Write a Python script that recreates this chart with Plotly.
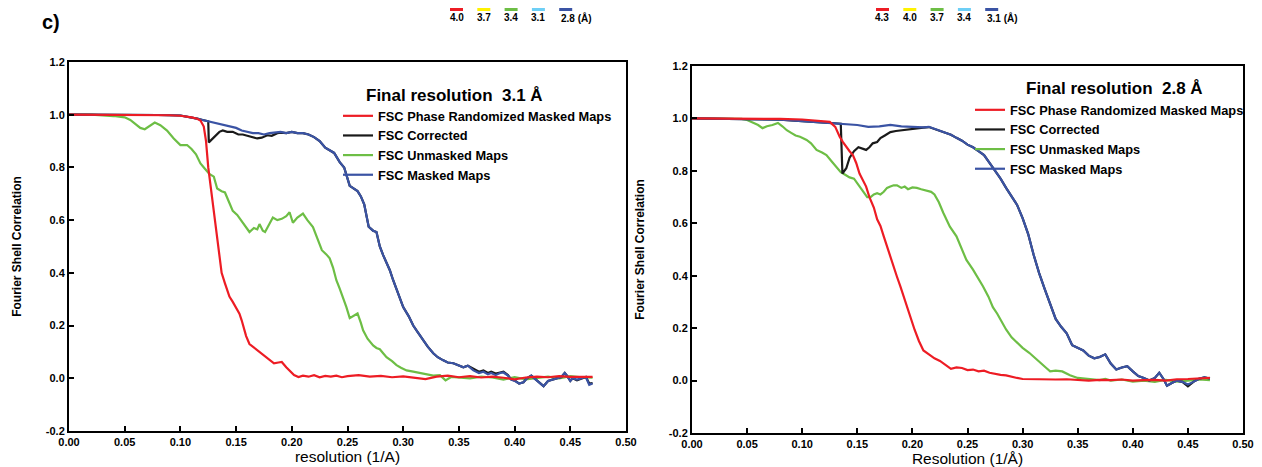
import plotly.graph_objects as go

# ---------------- data: panel A (left, final resolution 3.1 Å) ----------------
A_RED_X = [0.0, 0.02, 0.04, 0.06, 0.08, 0.09, 0.10, 0.105, 0.11, 0.115,
           0.118, 0.121, 0.123, 0.125, 0.128, 0.131, 0.134, 0.137, 0.140, 0.144,
           0.147, 0.150, 0.153, 0.155, 0.157, 0.159, 0.162, 0.165, 0.168, 0.173,
           0.178, 0.184, 0.188, 0.191, 0.195, 0.199, 0.202, 0.206, 0.21, 0.215,
           0.22, 0.225, 0.23, 0.235, 0.24, 0.245, 0.25, 0.26, 0.27, 0.28,
           0.29, 0.30, 0.31, 0.32, 0.33, 0.34, 0.35, 0.36, 0.37, 0.38,
           0.39, 0.40, 0.41, 0.42, 0.43, 0.44, 0.45, 0.46, 0.47]
A_RED_Y = [1.0, 1.0, 1.0, 1.0, 0.999, 0.998, 0.996, 0.994, 0.99, 0.985,
           0.978, 0.955, 0.90, 0.80, 0.70, 0.60, 0.50, 0.40, 0.36, 0.31,
           0.29, 0.27, 0.245, 0.22, 0.185, 0.16, 0.13, 0.12, 0.11, 0.094,
           0.075, 0.057, 0.06, 0.062, 0.042, 0.025, 0.012, 0.005, 0.01, 0.006,
           0.012, 0.004, 0.009, 0.006, 0.01, 0.004, 0.008, 0.012, 0.006, 0.009,
           0.004, 0.007, 0.002, -0.003, 0.006, 0.01, 0.004, 0.008, 0.003, 0.006,
           0.002, -0.004, 0.003, 0.006, 0.004, 0.008, 0.005, 0.006, 0.005]

A_GREEN_X = [0.0, 0.02, 0.04, 0.05, 0.055, 0.06, 0.064, 0.068, 0.072, 0.077,
             0.082, 0.088, 0.094, 0.100, 0.106, 0.110, 0.114, 0.118, 0.122, 0.126,
             0.130, 0.133, 0.137, 0.140, 0.144, 0.147, 0.151, 0.156, 0.159, 0.162,
             0.166, 0.169, 0.171, 0.174, 0.176, 0.180, 0.183, 0.187, 0.191, 0.195,
             0.198, 0.201, 0.205, 0.210, 0.214, 0.219, 0.223, 0.227, 0.231, 0.234,
             0.237, 0.240, 0.243, 0.246, 0.249, 0.252, 0.256, 0.259, 0.262, 0.264,
             0.268, 0.273, 0.276, 0.279, 0.282, 0.285, 0.290, 0.294, 0.298, 0.303,
             0.309, 0.315, 0.321, 0.327, 0.333, 0.338, 0.343, 0.35, 0.36, 0.37,
             0.38, 0.39, 0.40, 0.41, 0.42, 0.43, 0.44, 0.45, 0.46, 0.47]
A_GREEN_Y = [1.0, 1.0, 0.995, 0.99, 0.98, 0.965, 0.95, 0.945, 0.955, 0.97,
             0.96, 0.94, 0.91, 0.885, 0.885, 0.87, 0.85, 0.815, 0.795, 0.775,
             0.765, 0.72, 0.71, 0.705, 0.665, 0.635, 0.62, 0.59, 0.575, 0.555,
             0.57, 0.565, 0.585, 0.56, 0.555, 0.585, 0.61, 0.60, 0.605, 0.615,
             0.63, 0.59, 0.61, 0.625, 0.60, 0.574, 0.53, 0.486, 0.47, 0.455,
             0.42, 0.372, 0.34, 0.308, 0.27, 0.228, 0.24, 0.246, 0.21, 0.182,
             0.15, 0.125, 0.115, 0.11, 0.095, 0.08, 0.065, 0.05, 0.04, 0.03,
             0.025, 0.02, 0.015, 0.01, 0.012, -0.008, 0.005, 0.004, 0.0, 0.006,
             0.003, -0.005, 0.004, -0.004, 0.002, 0.006, 0.0, 0.008, 0.004, 0.002]

A_BLUE_X = [0.0, 0.05, 0.08, 0.10, 0.11, 0.115, 0.12, 0.125, 0.13, 0.135,
            0.14, 0.145, 0.15, 0.155, 0.16, 0.165, 0.17, 0.175, 0.18, 0.185,
            0.19, 0.195, 0.20, 0.205, 0.21, 0.215, 0.22, 0.225, 0.23, 0.234,
            0.238, 0.243, 0.247, 0.252, 0.256, 0.259, 0.262, 0.265, 0.269, 0.273,
            0.276, 0.279, 0.282, 0.285, 0.288, 0.291, 0.295, 0.300, 0.305, 0.309,
            0.313, 0.318, 0.322, 0.327, 0.331, 0.336, 0.340, 0.345, 0.350, 0.354,
            0.358, 0.363, 0.368, 0.372, 0.376, 0.379, 0.383, 0.387, 0.390, 0.394,
            0.397, 0.400, 0.404, 0.408, 0.411, 0.415, 0.419, 0.423, 0.426, 0.430,
            0.434, 0.438, 0.442, 0.445, 0.447, 0.450, 0.452, 0.456, 0.460, 0.464,
            0.467, 0.470]
A_BLUE_Y = [1.0, 1.0, 0.999, 0.997, 0.99, 0.985, 0.98, 0.975, 0.97, 0.965,
            0.96, 0.955, 0.95, 0.94, 0.935, 0.93, 0.93, 0.925, 0.93, 0.932,
            0.935, 0.93, 0.935, 0.93, 0.93, 0.925, 0.915, 0.90, 0.875, 0.865,
            0.855, 0.82, 0.80, 0.73, 0.72, 0.71, 0.69, 0.66, 0.575, 0.56,
            0.555, 0.50, 0.467, 0.44, 0.41, 0.372, 0.33, 0.27, 0.235, 0.20,
            0.175, 0.144, 0.12, 0.095, 0.08, 0.068, 0.06, 0.057, 0.05, 0.042,
            0.048, 0.03, 0.02, 0.025, 0.015, 0.02, 0.012, 0.02, 0.022, 0.01,
            -0.005, -0.01, -0.02, -0.015, 0.0, 0.01, -0.005, -0.02, -0.03, -0.01,
            -0.005, 0.0, 0.005, 0.02, 0.01, -0.01, 0.0, -0.005, 0.0, 0.005,
            -0.025, -0.02]

A_BLACK_X = [0.0, 0.05, 0.08, 0.10, 0.11, 0.115, 0.12, 0.125, 0.1255, 0.130,
             0.135, 0.138, 0.142, 0.147, 0.152, 0.156, 0.160, 0.165, 0.169, 0.173,
             0.178, 0.182, 0.187, 0.190, 0.195, 0.20, 0.205, 0.21, 0.215, 0.22,
             0.225, 0.23, 0.234, 0.238, 0.243, 0.247, 0.252, 0.256, 0.259, 0.262,
             0.265, 0.269, 0.273, 0.276, 0.279, 0.282, 0.285, 0.288, 0.291, 0.295,
             0.300, 0.305, 0.309, 0.313, 0.318, 0.322, 0.327, 0.331, 0.336, 0.340,
             0.345, 0.350, 0.354, 0.358, 0.363, 0.368, 0.372, 0.376, 0.379, 0.383,
             0.387, 0.390, 0.394, 0.397, 0.400, 0.404, 0.408, 0.411, 0.415, 0.419,
             0.423, 0.426, 0.430, 0.434, 0.438, 0.442, 0.445, 0.447, 0.450, 0.452,
             0.456, 0.460, 0.464, 0.467, 0.470]
A_BLACK_Y = [1.0, 1.0, 0.999, 0.997, 0.99, 0.985, 0.98, 0.975, 0.895, 0.915,
             0.935, 0.94, 0.935, 0.935, 0.925, 0.925, 0.92, 0.915, 0.91, 0.913,
             0.922, 0.92, 0.93, 0.932, 0.93, 0.935, 0.93, 0.93, 0.925, 0.915,
             0.90, 0.875, 0.865, 0.855, 0.82, 0.80, 0.73, 0.72, 0.71, 0.69,
             0.66, 0.575, 0.56, 0.555, 0.50, 0.467, 0.44, 0.41, 0.372, 0.33,
             0.27, 0.235, 0.20, 0.175, 0.144, 0.12, 0.095, 0.08, 0.068, 0.06,
             0.057, 0.05, 0.042, 0.048, 0.035, 0.025, 0.03, 0.02, 0.025, 0.018,
             0.022, 0.025, 0.012, -0.005, -0.008, -0.02, -0.015, 0.0, 0.01, -0.005,
             -0.02, -0.03, -0.01, -0.005, 0.0, 0.005, 0.02, 0.01, -0.01, 0.0,
             -0.008, 0.0, 0.005, -0.02, -0.018]

# ---------------- data: panel B (right, final resolution 2.8 Å) ----------------
B_RED_X = [0.0, 0.05, 0.08, 0.10, 0.11, 0.12, 0.125, 0.130, 0.134, 0.137,
           0.140, 0.143, 0.146, 0.149, 0.152, 0.155, 0.158, 0.161, 0.165, 0.168,
           0.171, 0.174, 0.177, 0.180, 0.183, 0.186, 0.189, 0.192, 0.195, 0.198,
           0.202, 0.206, 0.21, 0.215, 0.22, 0.225, 0.23, 0.235, 0.24, 0.245,
           0.25, 0.255, 0.26, 0.265, 0.27, 0.275, 0.28, 0.285, 0.29, 0.295,
           0.30, 0.31, 0.32, 0.33, 0.34, 0.35, 0.36, 0.37, 0.38, 0.39,
           0.40, 0.41, 0.42, 0.43, 0.44, 0.45, 0.46, 0.47]
B_RED_Y = [1.0, 1.0, 0.998, 0.996, 0.993, 0.99, 0.987, 0.968, 0.93, 0.91,
           0.89, 0.875, 0.86, 0.83, 0.79, 0.765, 0.74, 0.70, 0.66, 0.615,
           0.59, 0.55, 0.51, 0.472, 0.435, 0.396, 0.36, 0.32, 0.28, 0.244,
           0.194, 0.15, 0.115, 0.10, 0.085, 0.075, 0.06, 0.045, 0.05, 0.048,
           0.04, 0.042, 0.035, 0.038, 0.03, 0.025, 0.022, 0.02, 0.014, 0.01,
           0.006, 0.005, 0.006, 0.004, 0.005, 0.003, 0.0, 0.003, 0.002, 0.004,
           0.0, 0.002, 0.003, 0.0, 0.005, 0.006, 0.008, 0.01]

B_GREEN_X = [0.0, 0.03, 0.045, 0.05, 0.055, 0.06, 0.064, 0.068, 0.073, 0.078,
             0.082, 0.086, 0.090, 0.094, 0.098, 0.104, 0.108, 0.113, 0.118, 0.122,
             0.127, 0.131, 0.135, 0.139, 0.143, 0.147, 0.151, 0.155, 0.159, 0.162,
             0.165, 0.168, 0.171, 0.174, 0.177, 0.180, 0.183, 0.186, 0.190, 0.193,
             0.196, 0.200, 0.204, 0.208, 0.213, 0.217, 0.220, 0.224, 0.228, 0.234,
             0.240, 0.245, 0.249, 0.255, 0.260, 0.264, 0.269, 0.273, 0.277, 0.281,
             0.285, 0.290, 0.295, 0.300, 0.306, 0.312, 0.317, 0.321, 0.325, 0.330,
             0.336, 0.343, 0.350, 0.36, 0.37, 0.375, 0.38, 0.39, 0.40, 0.41,
             0.42, 0.43, 0.44, 0.45, 0.46, 0.47]
B_GREEN_Y = [1.0, 1.0, 0.998, 0.994, 0.985, 0.975, 0.963, 0.97, 0.975, 0.983,
             0.97, 0.955, 0.945, 0.935, 0.93, 0.918, 0.905, 0.88, 0.87, 0.86,
             0.835, 0.815, 0.795, 0.785, 0.775, 0.77, 0.745, 0.72, 0.70, 0.70,
             0.71, 0.715, 0.71, 0.72, 0.735, 0.74, 0.745, 0.745, 0.735, 0.74,
             0.73, 0.737, 0.735, 0.73, 0.725, 0.72, 0.71, 0.68, 0.64, 0.587,
             0.55, 0.50, 0.46, 0.423, 0.39, 0.36, 0.32, 0.28, 0.255, 0.225,
             0.195, 0.165, 0.145, 0.125, 0.106, 0.085, 0.067, 0.05, 0.035, 0.038,
             0.035, 0.02, 0.01, 0.005, 0.002, 0.006, 0.0, 0.004, -0.004, 0.0,
             -0.005, 0.003, -0.004, 0.0, 0.004, 0.002]

B_BLUE_X = [0.0, 0.05, 0.08, 0.10, 0.12, 0.13, 0.14, 0.15, 0.16, 0.17,
            0.18, 0.19, 0.20, 0.21, 0.215, 0.22, 0.225, 0.23, 0.235, 0.24,
            0.245, 0.25, 0.255, 0.26, 0.265, 0.27, 0.275, 0.28, 0.285, 0.29,
            0.295, 0.30, 0.305, 0.31, 0.315, 0.32, 0.325, 0.33, 0.335, 0.34,
            0.345, 0.35, 0.355, 0.36, 0.365, 0.37, 0.375, 0.38, 0.385, 0.39,
            0.395, 0.40, 0.405, 0.41, 0.415, 0.42, 0.424, 0.428, 0.431, 0.435,
            0.44, 0.445, 0.45, 0.455, 0.46, 0.465, 0.47]
B_BLUE_Y = [1.0, 0.998, 0.995, 0.99, 0.985, 0.982, 0.98, 0.975, 0.968, 0.97,
            0.975, 0.97, 0.968, 0.966, 0.968, 0.96, 0.955, 0.945, 0.938, 0.926,
            0.915, 0.90, 0.89, 0.875, 0.86, 0.83, 0.80, 0.77, 0.735, 0.70,
            0.67, 0.62, 0.56, 0.48, 0.41, 0.35, 0.29, 0.235, 0.205, 0.18,
            0.135, 0.125, 0.115, 0.095, 0.085, 0.09, 0.10, 0.065, 0.042, 0.05,
            0.055, 0.035, 0.017, 0.01, 0.0, 0.01, 0.03, 0.005, -0.02, -0.01,
            0.0, -0.005, -0.015, -0.005, 0.007, 0.012, 0.008]

B_BLACK_X = [0.0, 0.05, 0.08, 0.10, 0.12, 0.13, 0.135, 0.1365, 0.140, 0.143,
             0.147, 0.151, 0.155, 0.158, 0.161, 0.164, 0.168, 0.171, 0.175, 0.180,
             0.185, 0.190, 0.195, 0.200, 0.205, 0.210, 0.215, 0.22, 0.225, 0.23,
             0.235, 0.24, 0.245, 0.25, 0.255, 0.26, 0.265, 0.27, 0.275, 0.28,
             0.285, 0.29, 0.295, 0.30, 0.305, 0.31, 0.315, 0.32, 0.325, 0.33,
             0.335, 0.34, 0.345, 0.35, 0.355, 0.36, 0.365, 0.37, 0.375, 0.38,
             0.385, 0.39, 0.395, 0.40, 0.405, 0.41, 0.415, 0.42, 0.424, 0.428,
             0.431, 0.435, 0.44, 0.445, 0.45, 0.455, 0.46, 0.465, 0.47]
B_BLACK_Y = [1.0, 0.998, 0.995, 0.99, 0.985, 0.982, 0.98, 0.79, 0.81, 0.85,
             0.875, 0.89, 0.885, 0.88, 0.89, 0.905, 0.91, 0.925, 0.935, 0.948,
             0.952, 0.955, 0.958, 0.96, 0.962, 0.965, 0.967, 0.96, 0.955, 0.945,
             0.938, 0.926, 0.915, 0.90, 0.89, 0.875, 0.86, 0.83, 0.80, 0.77,
             0.735, 0.70, 0.67, 0.62, 0.56, 0.48, 0.41, 0.35, 0.29, 0.235,
             0.205, 0.18, 0.135, 0.125, 0.115, 0.095, 0.085, 0.09, 0.10, 0.065,
             0.042, 0.05, 0.055, 0.035, 0.017, 0.01, 0.0, 0.01, 0.03, 0.005,
             -0.02, -0.01, 0.0, -0.005, -0.022, -0.005, 0.007, 0.012, 0.008]

# ---------------- labels / ticks ----------------
SERIES_NAMES = ["FSC Phase Randomized Masked Maps", "FSC Corrected",
                "FSC Unmasked Maps", "FSC Masked Maps"]
LEGEND_TITLES = ["Final resolution  3.1 Å", "Final resolution  2.8 Å"]
X_TITLES = ["resolution (1/A)", "Resolution (1/Å)"]
Y_TITLE = "Fourier Shell Correlation"
X_TICKS = [0.0, 0.05, 0.10, 0.15, 0.20, 0.25, 0.30, 0.35, 0.40, 0.45, 0.50]
X_TICK_TEXT = ["0.00", "0.05", "0.10", "0.15", "0.20", "0.25", "0.30",
               "0.35", "0.40", "0.45", "0.50"]
Y_TICKS = [-0.2, 0.0, 0.2, 0.4, 0.6, 0.8, 1.0, 1.2]
Y_TICK_TEXT = ["-0.2", "0.0", "0.2", "0.4", "0.6", "0.8", "1.0", "1.2"]
KEY_LABELS_A = ["4.0", "3.7", "3.4", "3.1", "2.8 (Å)"]
KEY_LABELS_B = ["4.3", "4.0", "3.7", "3.4", "3.1 (Å)"]
KEY_COLORS = ["#ED1C24", "#FFF200", "#6DBE45", "#6DCFF6", "#3A53A4"]
PANEL_LABEL = "c)"

# ---------------- styling ----------------
PAGE_W, PAGE_H = 1262, 467
BODY_MARGIN = 8                      # default <body> margin of the html page
W, H = PAGE_W - BODY_MARGIN, PAGE_H - BODY_MARGIN
FONT = "Liberation Sans, Arial, sans-serif"
COL_RED, COL_BLACK, COL_GREEN, COL_BLUE = "#ED1C24", "#1a1a1a", "#6DBE45", "#3A53A4"


def pxx(p):
    """page pixel x -> paper fraction"""
    return (p - BODY_MARGIN) / W


def pxy(p):
    """page pixel y -> paper fraction"""
    return 1 - (p - BODY_MARGIN) / H


fig = go.Figure()

panels = [
    dict(xa="x", ya="y", leg="legend",
         red=(A_RED_X, A_RED_Y), black=(A_BLACK_X, A_BLACK_Y),
         green=(A_GREEN_X, A_GREEN_Y), blue=(A_BLUE_X, A_BLUE_Y)),
    dict(xa="x2", ya="y2", leg="legend2",
         red=(B_RED_X, B_RED_Y), black=(B_BLACK_X, B_BLACK_Y),
         green=(B_GREEN_X, B_GREEN_Y), blue=(B_BLUE_X, B_BLUE_Y)),
]

for p in panels:
    # drawing order: green, black, blue, red (legend order via legendrank)
    for key, name, col, rank in [("green", SERIES_NAMES[2], COL_GREEN, 3),
                                 ("black", SERIES_NAMES[1], COL_BLACK, 2),
                                 ("blue", SERIES_NAMES[3], COL_BLUE, 4),
                                 ("red", SERIES_NAMES[0], COL_RED, 1)]:
        xs, ys = p[key]
        fig.add_trace(go.Scatter(
            x=xs, y=ys, mode="lines", name=name,
            line=dict(color=col, width=2.2),
            xaxis=p["xa"], yaxis=p["ya"], legend=p["leg"], legendrank=rank,
        ))

tickfont = dict(family=FONT, size=11, color="black", weight="bold")


def xaxis(domain, title, anchor):
    return dict(domain=domain, range=[0, 0.5], tickmode="array",
                tickvals=X_TICKS, ticktext=X_TICK_TEXT,
                ticks="inside", ticklen=5, tickwidth=2, tickcolor="black",
                showline=True, linewidth=2, linecolor="black", mirror=True,
                showgrid=False, zeroline=False, tickfont=tickfont,
                anchor=anchor, automargin=False,
                title=dict(text=title, standoff=4,
                           font=dict(family=FONT, size=15.5, color="black")))


def yaxis(domain, anchor):
    return dict(domain=domain, range=[-0.2, 1.2], tickmode="array",
                tickvals=Y_TICKS, ticktext=Y_TICK_TEXT,
                ticks="inside", ticklen=5, tickwidth=2, tickcolor="black",
                showline=True, linewidth=2, linecolor="black", mirror=True,
                showgrid=False, zeroline=False, tickfont=tickfont,
                anchor=anchor, automargin=False,
                title=dict(text=Y_TITLE, standoff=22,
                           font=dict(family=FONT, size=12, color="black",
                                     weight="bold")))


def legend(x, y):
    return dict(x=x, y=y, xanchor="left", yanchor="top",
                bgcolor="rgba(0,0,0,0)", borderwidth=0, itemwidth=30,
                font=dict(family=FONT, size=12.8, color="black", weight="bold"))


annotations = [dict(text=PANEL_LABEL, x=pxx(40), y=pxy(22), xref="paper",
                    yref="paper", xanchor="left", yanchor="middle",
                    showarrow=False,
                    font=dict(family=FONT, size=20, color="black",
                              weight="bold"))]
# legend headings
for title, (tx, ty) in zip(LEGEND_TITLES, [(364, 95), (1024, 88)]):
    annotations.append(dict(text=title, x=pxx(tx), y=pxy(ty), xref="paper",
                            yref="paper", xanchor="left", yanchor="middle",
                            showarrow=False,
                            font=dict(family=FONT, size=17, color="black",
                                      weight="bold")))

# small colour key above each panel
shapes = []
for labels, x0 in [(KEY_LABELS_A, 450), (KEY_LABELS_B, 876)]:
    for i, (lab, col) in enumerate(zip(labels, KEY_COLORS)):
        left = x0 + i * 27.3
        shapes.append(dict(type="rect", xref="paper", yref="paper",
                           x0=pxx(left), x1=pxx(left + 13),
                           y0=pxy(11), y1=pxy(BODY_MARGIN), fillcolor=col,
                           line=dict(width=0)))
        last = i == len(labels) - 1
        annotations.append(dict(
            text=lab, xref="paper", yref="paper",
            x=pxx(left if last else left + 6.5), y=pxy(18),
            xanchor="left" if last else "center", yanchor="middle",
            showarrow=False,
            font=dict(family=FONT, size=10, color="black", weight="bold")))

fig.update_layout(
    width=W, height=H,
    margin=dict(l=0, r=0, t=0, b=0),
    paper_bgcolor="white", plot_bgcolor="white",
    xaxis=xaxis([pxx(69), pxx(626)], X_TITLES[0], "y"),
    yaxis=yaxis([pxy(431), pxy(62)], "x"),
    xaxis2=xaxis([pxx(692), pxx(1243)], X_TITLES[1], "y2"),
    yaxis2=yaxis([pxy(433), pxy(66)], "x2"),
    legend=legend(pxx(338), pxy(101)),
    legend2=legend(pxx(970), pxy(95)),
    annotations=annotations,
    shapes=shapes,
    showlegend=True,
)

fig.write_html("out.html")
